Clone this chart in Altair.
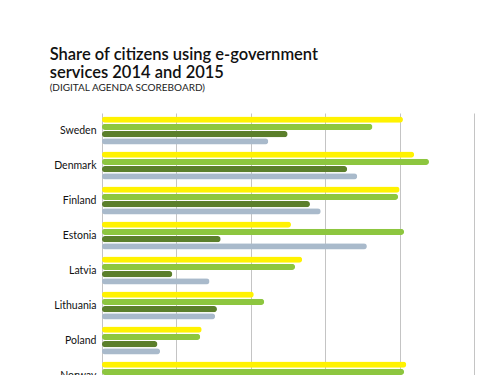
import altair as alt
import pandas as pd

countries = ["Sweden", "Denmark", "Finland", "Estonia", "Latvia", "Lithuania", "Poland", "Norway"]
series = ["2014 users", "2015 users", "2014 forms", "2015 forms"]
users_2014 = [80.9, 83.9, 80.0, 50.8, 53.8, 40.8, 26.8, 81.8]
users_2015 = [72.7, 87.9, 79.6, 81.2, 51.9, 43.6, 26.4, 81.2]
forms_2014 = [49.9, 65.9, 55.9, 31.9, 18.9, 30.9, 14.9, 55.5]
forms_2015 = [44.7, 68.6, 58.8, 71.2, 28.9, 30.4, 15.6, 60.0]
colors = ["#fff200", "#8dc63f", "#5b7f2b", "#a9bacb"]

rows = []
for i, c in enumerate(countries):
    for s, vals in zip(series, [users_2014, users_2015, forms_2014, forms_2015]):
        rows.append({"country": c, "series": s, "value": vals[i]})
df = pd.DataFrame(rows)

chart = alt.Chart(df).mark_bar(cornerRadius=3).encode(
    y=alt.Y("country:N", sort=countries, title=None,
            scale=alt.Scale(paddingInner=0.2, paddingOuter=0.1),
            axis=alt.Axis(domain=False, ticks=False, labelFont="Lato", labelFontSize=10.5,
                          labelColor="#111", labelPadding=6)),
    yOffset=alt.YOffset("series:N", sort=series, scale=alt.Scale(paddingInner=0.14)),
    x=alt.X("value:Q", title=None, scale=alt.Scale(domain=[0, 100]),
            axis=alt.Axis(values=[0, 20, 40, 60, 80, 100], labels=False, ticks=False, domain=False,
                          grid=True, gridColor="#c4c4c4", gridWidth=1)),
    color=alt.Color("series:N", sort=series, scale=alt.Scale(domain=series, range=colors), legend=None),
).properties(
    width=372, height=280,
    title=alt.TitleParams(
        text=["Share of citizens using e-government", "services 2014 and 2015"],
        subtitle="(DIGITAL AGENDA SCOREBOARD)",
        anchor="start", font="Lato", fontSize=16.5, fontWeight=600, color="#111",
        lineHeight=18, subtitleFont="Lato", subtitleFontSize=10, subtitleColor="#222",
        subtitlePadding=2, offset=20, dx=-4,
    ),
    padding={"left": 41, "top": 38, "right": 5, "bottom": 5},
).configure_view(stroke=None)

chart.save("out.html", embed_options={"renderer": "svg", "actions": False})
